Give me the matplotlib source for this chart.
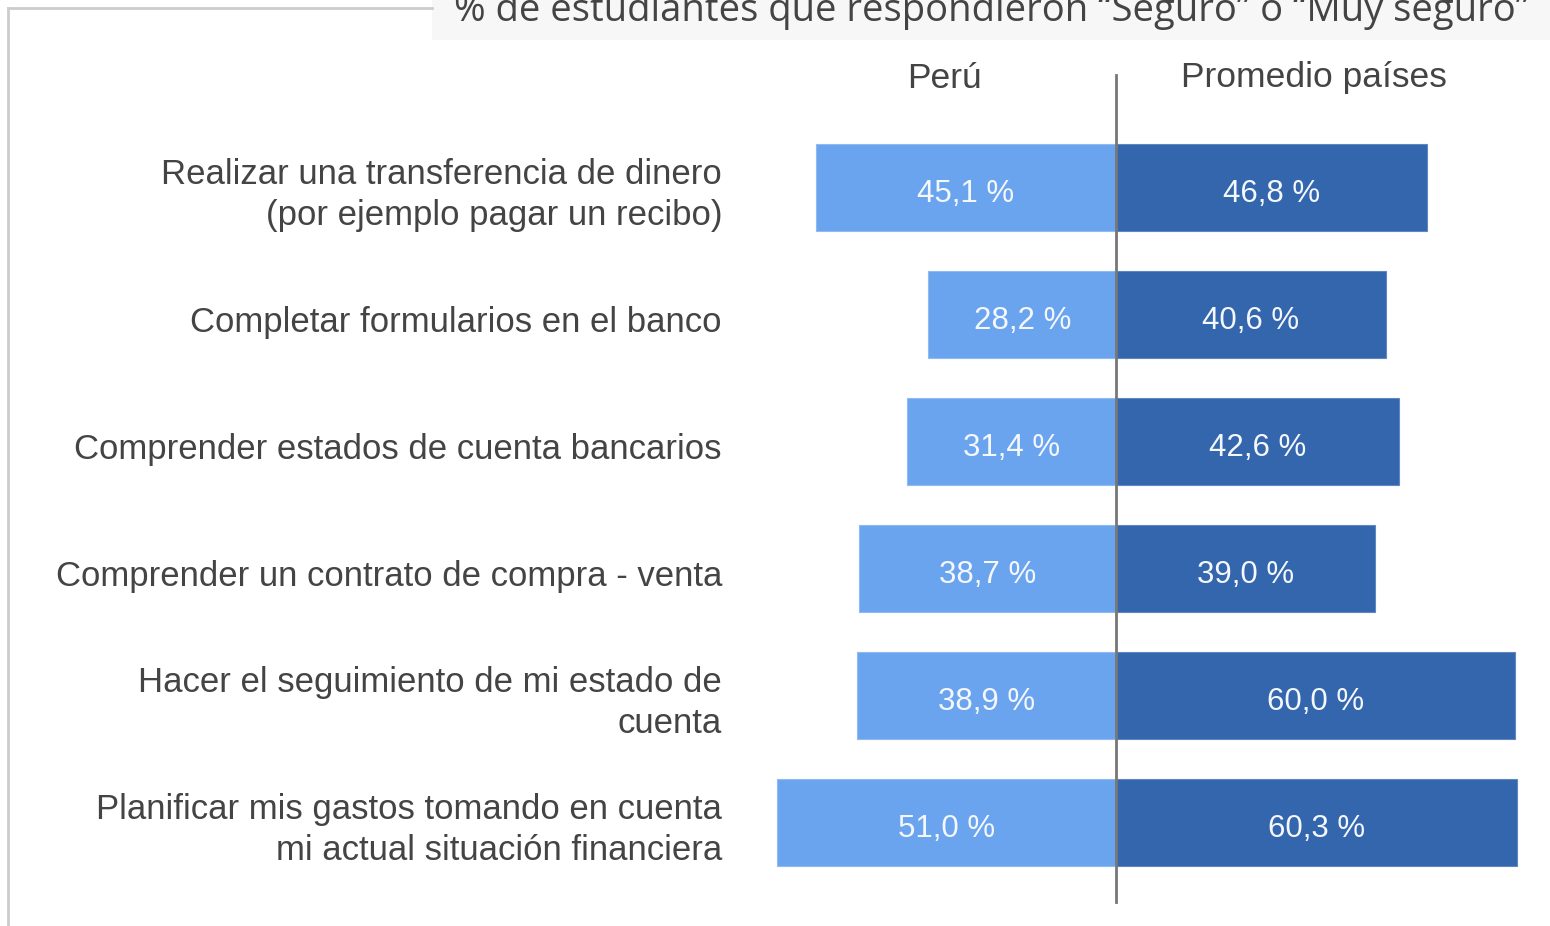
import matplotlib
matplotlib.use("Agg")
import matplotlib.pyplot as plt
import matplotlib.transforms as mtransforms
from matplotlib.patches import Rectangle
from matplotlib.lines import Line2D

categories = [
    "Realizar una transferencia de dinero\n(por ejemplo pagar un recibo)",
    "Completar formularios en el banco",
    "Comprender estados de cuenta bancarios",
    "Comprender un contrato de compra - venta",
    "Hacer el seguimiento de mi estado de\ncuenta",
    "Planificar mis gastos tomando en cuenta\nmi actual situación financiera",
]
peru = [45.1, 28.2, 31.4, 38.7, 38.9, 51.0]
promedio = [46.8, 40.6, 42.6, 39.0, 60.0, 60.3]
series_names = ["Perú", "Promedio países"]
title = "% de estudiantes que respondieron “Seguro” o “Muy seguro”"

LIGHT = "#6ba4ee"
DARK = "#3366ad"
TXT = "#444444"
SANS = ["Liberation Sans", "DejaVu Sans"]

W, H = 1550, 926
fig = plt.figure(figsize=(W / 100, H / 100), dpi=100)

# title box
fig.patches.append(Rectangle((432 / W, 1 - 40 / H), (W - 432) / W, 40 / H,
                             transform=fig.transFigure, facecolor="#f7f7f7",
                             edgecolor="none", zorder=0))
fig.text(992 / W, 1 - 21 / H, title, ha="center", va="baseline",
         fontsize=27.5, color=TXT, family=["Open Sans", "DejaVu Sans"])
# frame lines
fig.lines.append(Line2D([8 / W, 8 / W], [0, 1 - 8 / H], transform=fig.transFigure,
                        color="#cccccc", lw=2))
fig.lines.append(Line2D([8 / W, 432 / W], [1 - 8 / H, 1 - 8 / H], transform=fig.transFigure,
                        color="#cccccc", lw=2))

ax = fig.add_axes([740 / W, 16 / H, 800 / W, (910 - 60) / H])
ax.set_xlim(-56.54, 63.76)
ax.set_ylim(5.69, -1.004)

ypos = list(range(len(categories)))
ax.barh(ypos, [-v for v in peru], height=0.69, color=LIGHT, edgecolor="#8fbaf2", lw=0.8)
ax.barh(ypos, promedio, height=0.69, color=DARK, edgecolor="#5f88c2", lw=0.8)
ax.plot([0, 0], [-0.886, 5.624], color="#777777", lw=2, zorder=5)

dv = 0.05
for y, v in zip(ypos, peru):
    ax.text(-v / 2, y + dv, f"{v:.1f} %".replace(".", ","), ha="center", va="center",
            color="#f4f7fc", fontsize=22.5, family=SANS)
for y, v in zip(ypos, promedio):
    ax.text(v / 2, y + dv, f"{v:.1f} %".replace(".", ","), ha="center", va="center",
            color="#f4f7fc", fontsize=22.5, family=SANS)

ax.text((944 - 740) / 800, 1 - (78 - 60) / 850, series_names[0], transform=ax.transAxes,
        ha="center", va="center", fontsize=25.5, color=TXT, family=SANS)
ax.text((1314 - 740) / 800, 1 - (78 - 60) / 850, series_names[1], transform=ax.transAxes,
        ha="center", va="center", fontsize=25.5, color=TXT, family=SANS)

dl = 0.06
trans = mtransforms.blended_transform_factory(ax.transAxes, ax.transData)
for y, lab in zip(ypos, categories):
    ax.text(-(740 - 722) / 800, y + dl, lab, transform=trans, ha="right", va="center",
            multialignment="right", fontsize=25, color=TXT, family=SANS,
            linespacing=1.33)

ax.set_yticks([])
ax.set_xticks([])
for s in ax.spines.values():
    s.set_visible(False)

fig.savefig("out.png", dpi=100)
